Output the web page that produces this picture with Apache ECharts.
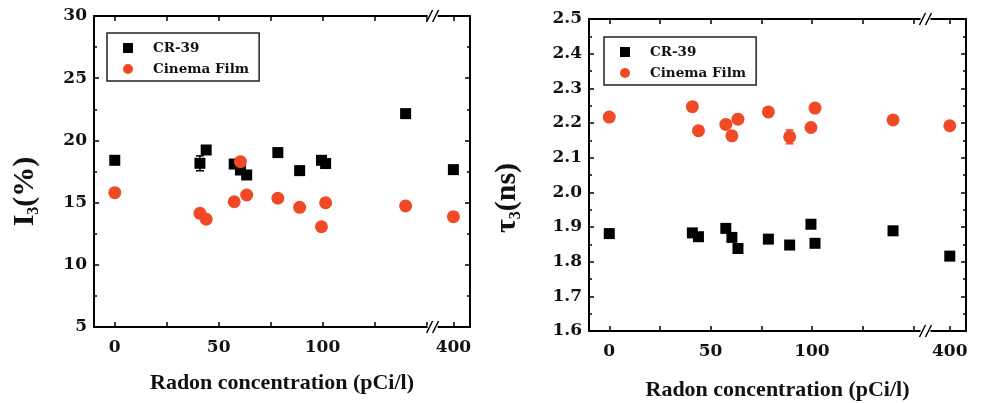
<!DOCTYPE html>
<html><head><meta charset="utf-8">
<script src="https://cdn.jsdelivr.net/npm/echarts@6/dist/echarts.min.js"></script>
<style>html,body{margin:0;padding:0;background:#fff}#c{width:983px;height:403px}</style>
</head><body><div id="c"></div>
<script>
// ---- data ----
const radon = [0, 41, 44, 57.5, 60.5, 63.5, 78.5, 89, 99.5, 101.5, 140, 400];
const i3CR39      = [18.4, 18.16, 19.23, 18.1, 17.62, 17.22, 19.02, 17.57, 18.4, 18.14, 22.15, 17.65];
const i3CR39Err   = [0.2, 0.6, 0.2, 0.2, 0.2, 0.2, 0.2, 0.2, 0.2, 0.2, 0.2, 0.2];
const i3Cinema    = [15.8, 14.14, 13.66, 15.07, 18.29, 15.61, 15.35, 14.62, 13.06, 14.99, 14.73, 13.87];
const i3CinemaErr = [0.2, 0.2, 0.2, 0.2, 0.2, 0.2, 0.2, 0.2, 0.2, 0.2, 0.2, 0.2];
const tauCR39      = [1.881, 1.883, 1.872, 1.896, 1.870, 1.838, 1.865, 1.848, 1.908, 1.853, 1.889, 1.816];
const tauCR39Err   = [0.008, 0.008, 0.008, 0.008, 0.008, 0.008, 0.008, 0.012, 0.008, 0.008, 0.008, 0.008];
const tauCinema    = [2.217, 2.247, 2.178, 2.196, 2.163, 2.211, 2.232, 2.16, 2.187, 2.243, 2.209, 2.192];
const tauCinemaErr = [0.008, 0.008, 0.008, 0.008, 0.01, 0.008, 0.01, 0.02, 0.008, 0.01, 0.008, 0.008];
const xLabelValues = [0, 50, 100, 400];
const xTickValues  = [0, 25, 50, 75, 100, 125, 150, 400];
const seriesNames  = ['CR-39', 'Cinema Film'];

const RED = '#EF4A25', BLK = '#000';
const numFont = {fontFamily: 'DejaVu Serif', fontWeight: 'bold', fontSize: 17, color: '#111'};
const titleFont = 'Liberation Serif';

function pairs(xs, ys) { return xs.map((x, i) => [x, ys[i]]); }
function errSeries(name, xi, yi, ys, errs, color) {
  return {
    type: 'custom', name: name, xAxisIndex: xi, yAxisIndex: yi, silent: true, z: 1,
    data: radon.map((x, i) => [x, ys[i], errs[i]]),
    renderItem: function (params, api) {
      const x = api.value(0), y = api.value(1), e = api.value(2);
      const t = api.coord([x, y + e]), b = api.coord([x, y - e]);
      const w = 4, st = {stroke: color, lineWidth: 1.5};
      return {type: 'group', children: [
        {type: 'line', shape: {x1: t[0], y1: t[1], x2: b[0], y2: b[1]}, style: st},
        {type: 'line', shape: {x1: t[0] - w, y1: t[1], x2: t[0] + w, y2: t[1]}, style: st},
        {type: 'line', shape: {x1: b[0] - w, y1: b[1], x2: b[0] + w, y2: b[1]}, style: st}
      ]};
    }
  };
}
function xAxes(grid, brk, name, nameGap) {
  const base = {
    gridIndex: grid, type: 'value', min: -10, max: 408,
    breaks: [{start: brk[0], end: brk[1], gap: 0}],
    breakArea: {show: false},
    splitLine: {show: false},
    axisLine: {onZero: false, lineStyle: {color: BLK, width: 2}},
    axisTick: {inside: true, length: 5, customValues: xTickValues, lineStyle: {color: BLK, width: 1.5}}
  };
  return [
    Object.assign({}, base, {position: 'bottom',
      axisLabel: Object.assign({customValues: xLabelValues, margin: 12}, numFont),
      name: name, nameLocation: 'middle', nameGap: nameGap,
      nameTextStyle: {fontFamily: titleFont, fontWeight: 'bold', fontSize: 22, color: '#111'}}),
    Object.assign({}, base, {position: 'top', axisLabel: {show: false}})
  ];
}
function yAxes(grid, min, max, interval, fmt, name, nameGap, pad, rich) {
  const base = {
    gridIndex: grid, type: 'value', min: min, max: max, interval: interval,
    splitLine: {show: false},
    axisLine: {onZero: false, lineStyle: {color: BLK, width: 2}},
    axisTick: {inside: true, length: 5, lineStyle: {color: BLK, width: 1.5}},
    minorTick: {show: true, splitNumber: 2, length: 3, lineStyle: {color: BLK, width: 1.5}}
  };
  return [
    Object.assign({}, base, {position: 'left',
      axisLabel: Object.assign({margin: 7, formatter: fmt}, numFont),
      name: name, nameLocation: 'middle', nameGap: nameGap,
      nameTextStyle: {padding: pad, rich: rich}}),
    Object.assign({}, base, {position: 'right', axisLabel: {show: false}})
  ];
}
const richY = {
  a: {fontFamily: titleFont, fontWeight: 'bold', fontSize: 30, color: '#111', lineHeight: 34},
  s: {fontFamily: titleFont, fontWeight: 'bold', fontSize: 16, color: '#111', lineHeight: 14, verticalAlign: 'bottom'}
};
function legend(left, top) {
  return {
    left: left, top: top, orient: 'vertical', data: seriesNames,
    borderColor: '#222', borderWidth: 1.5, borderRadius: 0,
    padding: [8, 10, 5, 16], itemWidth: 10, itemHeight: 10, itemGap: 7,
    textStyle: {fontFamily: 'DejaVu Serif', fontWeight: 'bold', fontSize: 13.5, color: '#111', padding: [0, 0, 0, 15]}
  };
}

const xa = xAxes(0, [153, 390], 'Radon concentration (pCi/l)', 45)
  .concat(xAxes(1, [156, 388], 'Radon concentration (pCi/l)', 48));
const ya = yAxes(0, 5, 30, 5, v => String(v), '{a|I}{s|3}{a|(%)}', 52, [0, 40, 0, 0], richY)
  .concat(yAxes(1, 1.6, 2.5, 0.1, v => v.toFixed(1), '{a|τ}{s|3}{a|(ns)}', 65, [0, 46, 0, 0], richY));

const chart = echarts.init(document.getElementById('c'), null, {renderer: 'canvas'});
chart.setOption({
  backgroundColor: '#fff',
  animation: false,
  grid: [
    {left: 94, right: 513, top: 16, bottom: 76, outerBoundsMode: 'none', containLabel: false},
    {left: 589, right: 17, top: 19, bottom: 72, outerBoundsMode: 'none', containLabel: false}
  ],
  legend: [legend(107, 33), legend(604, 37)],
  xAxis: xa,
  yAxis: ya,
  series: [
    errSeries('e1', 0, 0, i3CR39, i3CR39Err, BLK),
    errSeries('e2', 0, 0, i3Cinema, i3CinemaErr, RED),
    {type: 'scatter', name: 'CR-39', xAxisIndex: 0, yAxisIndex: 0, symbol: 'rect', symbolSize: 11,
     itemStyle: {color: BLK, opacity: 1}, data: pairs(radon, i3CR39), z: 3},
    {type: 'scatter', name: 'Cinema Film', xAxisIndex: 0, yAxisIndex: 0, symbol: 'circle', symbolSize: 13,
     itemStyle: {color: RED, opacity: 1}, data: pairs(radon, i3Cinema), z: 3},
    errSeries('e3', 2, 2, tauCR39, tauCR39Err, BLK),
    errSeries('e4', 2, 2, tauCinema, tauCinemaErr, RED),
    {type: 'scatter', name: 'CR-39', xAxisIndex: 2, yAxisIndex: 2, symbol: 'rect', symbolSize: 11,
     itemStyle: {color: BLK, opacity: 1}, data: pairs(radon, tauCR39), z: 3},
    {type: 'scatter', name: 'Cinema Film', xAxisIndex: 2, yAxisIndex: 2, symbol: 'circle', symbolSize: 13,
     itemStyle: {color: RED, opacity: 1}, data: pairs(radon, tauCinema), z: 3}
  ]
});

// break marks "//" on top and bottom axis lines, positioned through the axis scales
function breakMarks(xi, yi, brk, yMin, yMax) {
  const bx = chart.convertToPixel({xAxisIndex: xi}, (brk[0] + brk[1]) / 2);
  const bx2 = chart.convertToPixel({xAxisIndex: xi}, brk[0]);
  const x = (isFinite(bx) ? bx : bx2);
  const out = [];
  [yMin, yMax].forEach(v => {
    const y = chart.convertToPixel({yAxisIndex: yi}, v);
    out.push({type: 'rect', shape: {x: x - 5, y: y - 2, width: 10, height: 4}, style: {fill: '#fff'}, z: 100});
    [-3, 3].forEach(d => out.push({type: 'line', shape: {x1: x + d - 3, y1: y + 6, x2: x + d + 3, y2: y - 6},
      style: {stroke: '#000', lineWidth: 1.5}, z: 101}));
  });
  return out;
}
chart.setOption({graphic: breakMarks(0, 0, [153, 390], 5, 30).concat(breakMarks(2, 2, [156, 388], 1.6, 2.5))});
</script></body></html>
